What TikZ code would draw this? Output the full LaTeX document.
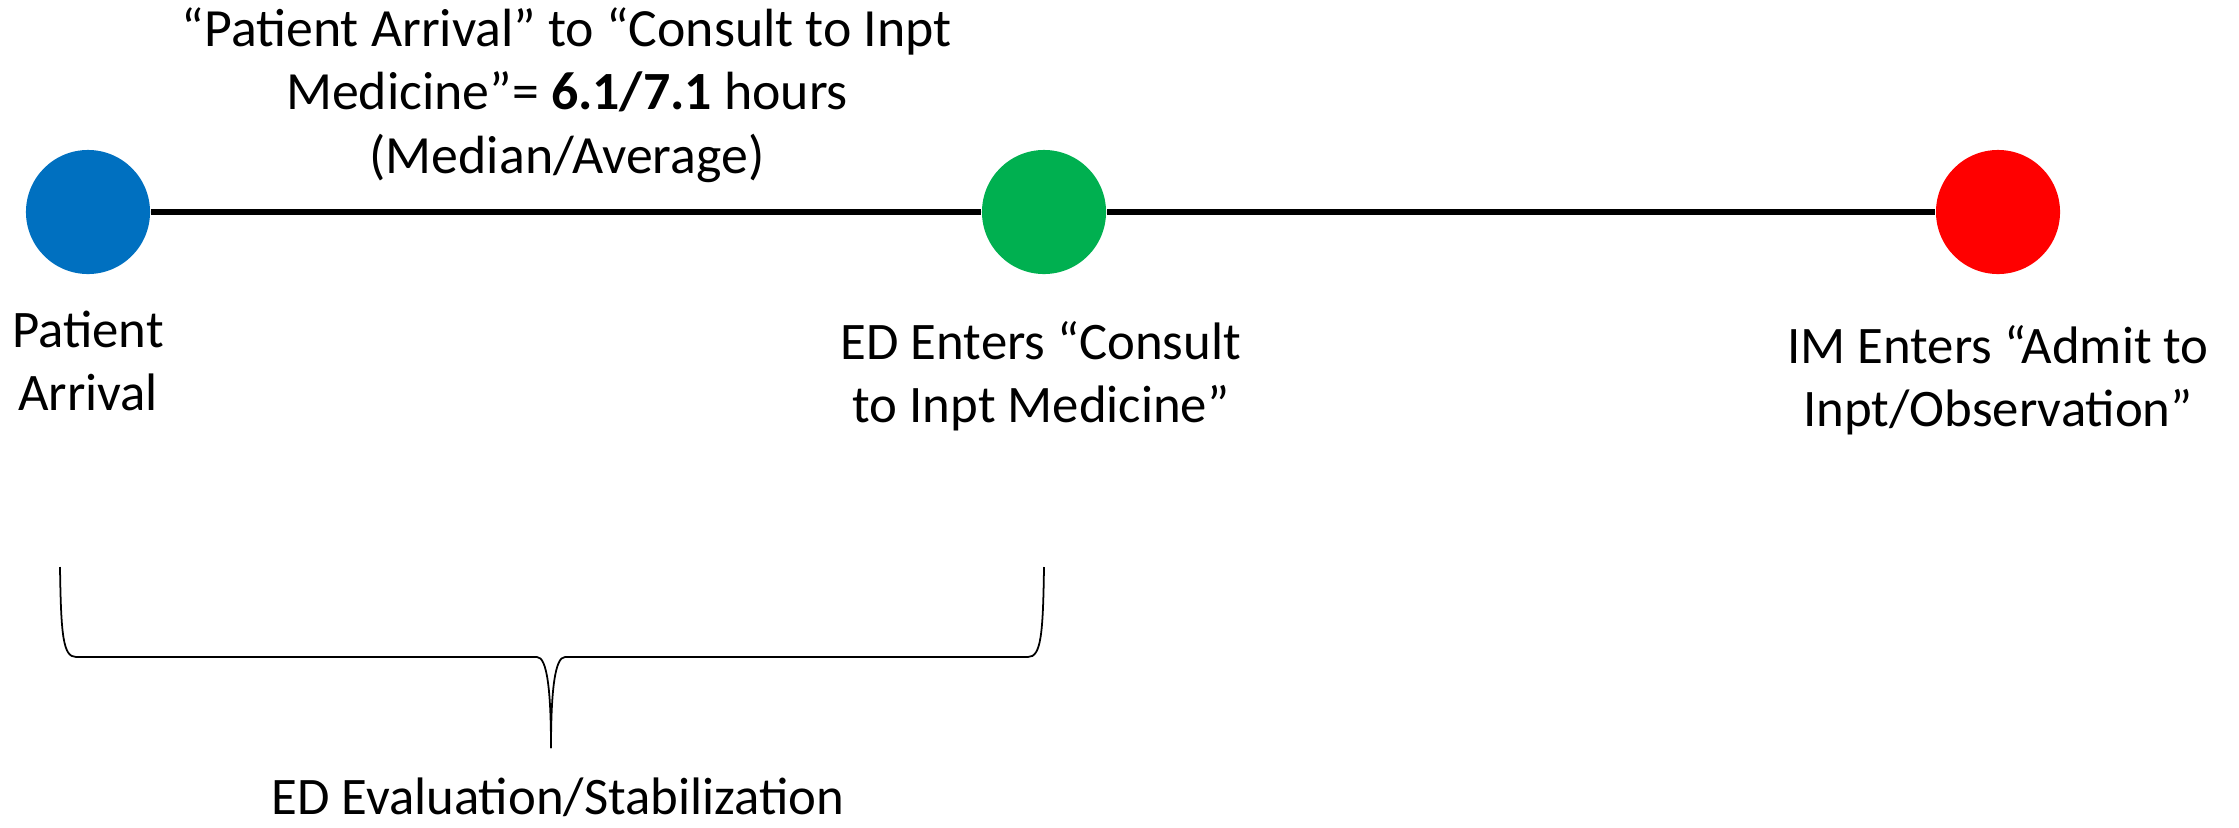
\documentclass[tikz,border=0pt]{standalone}
\usepackage{fontspec}
\setmainfont{Carlito}
\definecolor{arrivalblue}{HTML}{0070C0}
\definecolor{consultgreen}{HTML}{00B050}
\definecolor{admitred}{HTML}{FF0000}
\begin{document}
\begin{tikzpicture}[
  x=0.01cm, y=-0.01cm,
  every node/.style={align=center, font=\fontsize{15}{17.8}\selectfont, inner sep=0pt},
  dot/.style={circle, minimum size=1.24cm},
  timeline/.style={line width=1.5pt},
  bracket/.style={line width=0.5pt}
]
\useasboundingbox (0,0) rectangle (2239,827);

\node[dot, fill=arrivalblue] (arrival) at (88,212) {};
\node[dot, fill=consultgreen] (consult) at (1044,212) {};
\node[dot, fill=admitred] (admit) at (1998,212) {};

\draw[timeline] (arrival) -- (consult);
\draw[timeline] (consult) -- (admit);

\node[font=\fontsize{15.3}{18}\selectfont] (interval) at (567,95) {“Patient Arrival” to “Consult to Inpt\\ Medicine”= \textbf{6.1/7.1} hours\\ (Median/Average)};
\node (arrivallbl) at (88,361) {Patient\\ Arrival};
\node (consultlbl) at (1041,376) {ED Enters “Consult\\ to Inpt Medicine”};
\node (admitlbl) at (1998,380) {IM Enters “Admit to\\ Inpt/Observation”};

% brace under the ED part
\draw[bracket] (60,567) .. controls (61,635) and (63,657) .. (76,657) -- (537,657)
  .. controls (547,657) and (551,690) .. (551,748);
\draw[bracket] (1044,567) .. controls (1043,635) and (1041,657) .. (1028,657) -- (565,657)
  .. controls (555,657) and (551,690) .. (551,748);
\node (evallbl) at (558,797) {ED Evaluation/Stabilization};
\end{tikzpicture}
\end{document}
